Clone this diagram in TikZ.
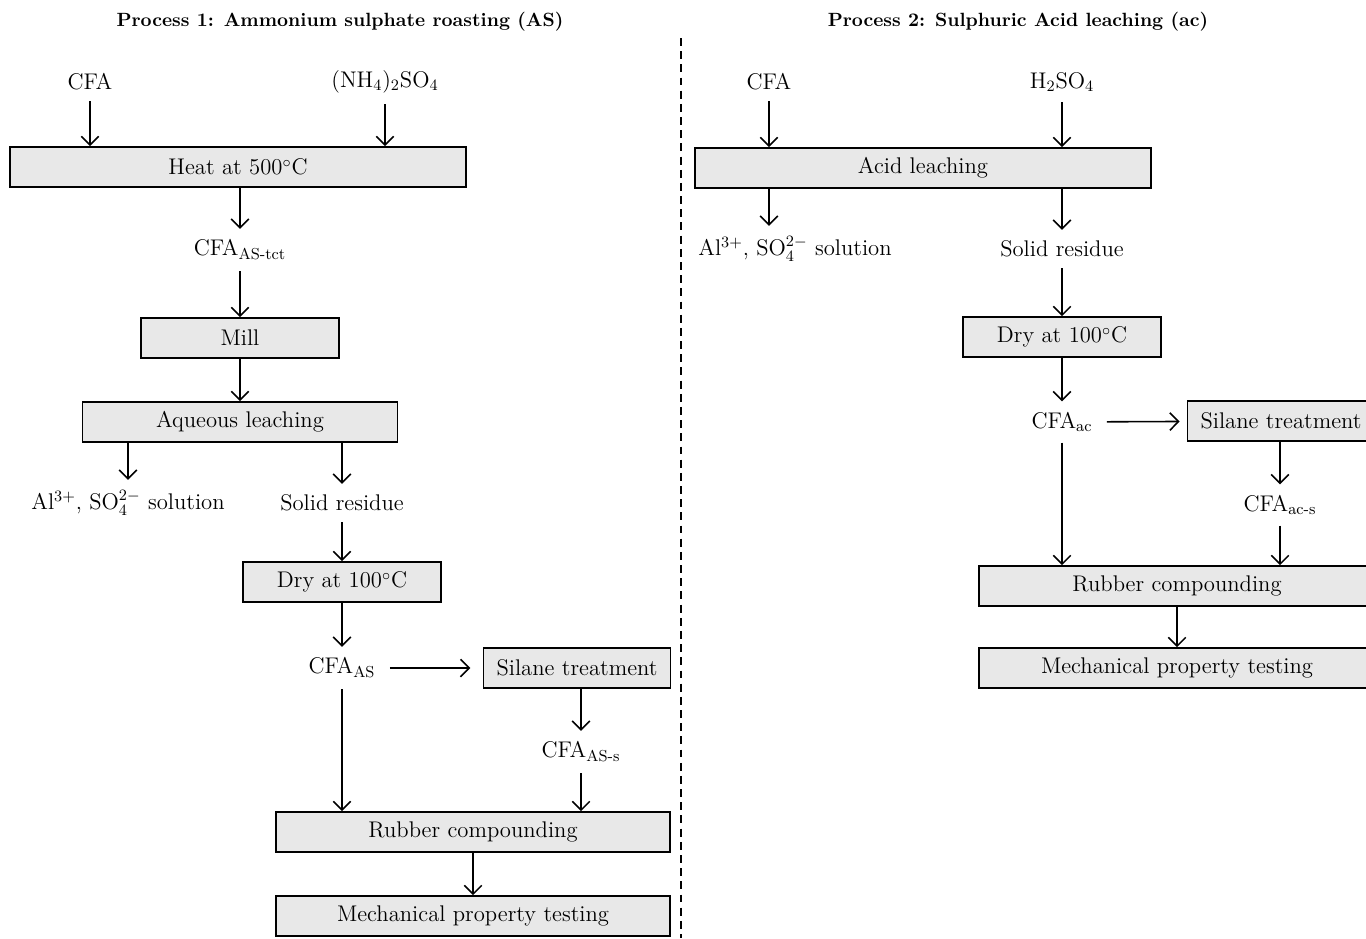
\documentclass[tikz,border=0pt]{standalone}
\usepackage{tikz}
\usetikzlibrary{arrows.meta,positioning}
\tikzset {>={Straight Barb[length=5pt,width=10pt,line width=0.9pt]}}
\tikzset{
  procbox/.style={draw, line width=0.9pt, fill=gray!18, minimum height=0.8cm,
    font=\fontsize{12.9}{15}\selectfont},
  label/.style={inner sep=6pt, font=\fontsize{12.9}{15}\selectfont},
  flow/.style={->, line width=0.9pt},
  heading/.style={font=\fontsize{10.9}{13}\selectfont\bfseries}
}

\begin{document}
\begin{tikzpicture}[x=0.02cm,y=-0.02cm]
\useasboundingbox (0,0) rectangle (1366,938);

% Headings and separating line
\node[heading] (head1) at (340,22) {Process 1: Ammonium sulphate roasting (AS)};
\node[heading] (head2) at (1018,22) {Process 2: Sulphuric Acid leaching (ac)};
\coordinate (septop) at (681,38);
\coordinate (sepbot) at (681,938);
\draw [line width=0.9pt, dash pattern=on 4.5pt off 3pt] (septop) -- (sepbot);

% Process 1
\node[label] (lcfa) at (90,82) {CFA};
\node[label] (nh) at (385,82) {(NH$_4$)$_2$SO$_4$};
\node[procbox, minimum width=9.12cm] (heat) at (238,167) {Heat at 500$^\circ$C};
\node[label] (tct) at (240,250) {CFA\textsubscript{AS-tct}};
\node[procbox, minimum width=3.96cm] (mill) at (240,338) {Mill};
\node[procbox, minimum width=6.3cm] (aq) at (240,422) {Aqueous leaching};
\node[label] (lsol) at (128,503) {Al$^{3+}$, SO$_4^{2-}$ solution};
\node[label] (lres) at (342,503) {Solid residue};
\node[procbox, minimum width=3.96cm] (ldry) at (342,582) {Dry at 100$^\circ$C};
\node[label] (cfaas) at (342,668) {CFA\textsubscript{AS}};
\node[procbox, minimum width=3.74cm] (lsil) at (577,668) {Silane treatment};
\node[label] (cfaass) at (581,752) {CFA\textsubscript{AS-s}};
\node[procbox, minimum width=7.88cm] (lrub) at (473,832) {Rubber compounding};
\node[procbox, minimum width=7.88cm] (lmech) at (473,916) {Mechanical property testing};

\draw [flow] (lcfa) -- (lcfa |- heat.north);
\draw [flow] (nh) -- (nh |- heat.north);
\draw [flow] (heat.south -| tct) -- (tct);
\draw [flow] (tct) -- (mill);
\draw [flow] (mill) -- (aq);
\draw [flow] (aq.south -| lsol) -- (lsol);
\draw [flow] (aq.south -| lres) -- (lres);
\draw [flow] (lres) -- (ldry);
\draw [flow] (ldry) -- (cfaas);
\draw [flow, shorten <=2pt, shorten >=7pt] (cfaas) -- (lsil);
\draw [flow] (lsil.south -| cfaass) -- (cfaass);
\draw [flow] (cfaass) -- (cfaass |- lrub.north);
\draw [flow] (cfaas) -- (cfaas |- lrub.north);
\draw [flow] (lrub.south -| lmech) -- (lmech);

% Process 2
\node[label] (rcfa) at (769,82) {CFA};
\node[label] (hso) at (1062,82) {H$_2$SO$_4$};
\node[procbox, minimum width=9.12cm] (acid) at (923,168) {Acid leaching};
\node[label] (rsol) at (795,249) {Al$^{3+}$, SO$_4^{2-}$ solution};
\node[label] (rres) at (1062,249) {Solid residue};
\node[procbox, minimum width=3.96cm] (rdry) at (1062,337) {Dry at 100$^\circ$C};
\node[label] (cfaac) at (1062,422) {CFA\textsubscript{ac}};
\node[procbox, minimum width=3.74cm] (rsil) at (1281,421) {Silane treatment};
\node[label] (cfaacs) at (1280,505) {CFA\textsubscript{ac-s}};
\node[procbox, minimum width=7.92cm] (rrub) at (1177,586) {Rubber compounding};
\node[procbox, minimum width=7.92cm] (rmech) at (1177,668) {Mechanical property testing};

\draw [flow] (rcfa) -- (rcfa |- acid.north);
\draw [flow] (hso) -- (hso |- acid.north);
\draw [flow] (acid.south -| rcfa) -- (rcfa |- rsol.north);
\draw [flow] (acid.south -| rres) -- (rres);
\draw [flow] (rres) -- (rdry);
\draw [flow] (rdry) -- (cfaac);
\draw [flow, shorten <=2pt, shorten >=4pt] (cfaac) -- (rsil);
\draw [flow] (rsil.south -| cfaacs) -- (cfaacs);
\draw [flow] (cfaacs) -- (cfaacs |- rrub.north);
\draw [flow] (cfaac) -- (cfaac |- rrub.north);
\draw [flow] (rrub) -- (rmech);
\end{tikzpicture}
\end{document}
